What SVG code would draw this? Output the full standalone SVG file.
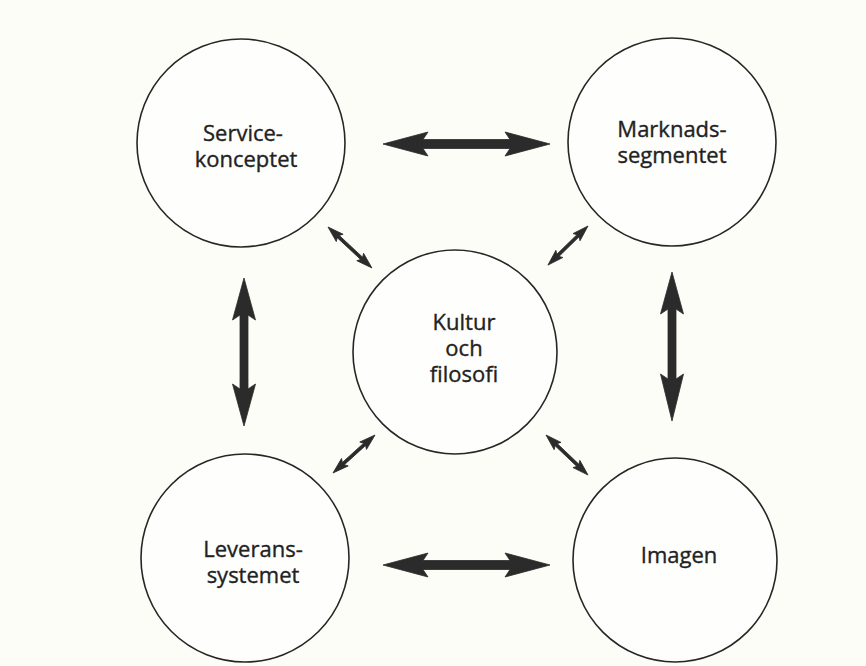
<svg xmlns="http://www.w3.org/2000/svg" width="866" height="666" viewBox="0 0 866 666">
<style>
.bg{fill:#fdfdf8}
.node circle{fill:#fefefc;stroke:#262626;stroke-width:1.6}
.node text{font-family:"Open Sans","Noto Sans","DejaVu Sans",sans-serif;font-size:22px;fill:#222222;stroke:#222222;stroke-width:0.35;text-anchor:middle}
.arrow{fill:#2b2b2b;stroke:#2b2b2b;stroke-width:0.8;stroke-linejoin:round}
</style>
<rect class="bg" x="0" y="0" width="866" height="666"/>
<g id="connectors">
<path class="arrow" transform="translate(383,144)" d="M0,0 L45,-12 L40,-4.5 L127,-4.5 L122,-12 L167,0 L122,12 L127,4.5 L40,4.5 L45,12 Z"/>
<path class="arrow" transform="translate(383,565)" d="M0,0 L45,-12 L40,-4.5 L127,-4.5 L122,-12 L167,0 L122,12 L127,4.5 L40,4.5 L45,12 Z"/>
<path class="arrow" transform="translate(244,278) rotate(90)" d="M0,0 L42,-11.5 L37,-4 L111,-4 L106,-11.5 L148,0 L106,11.5 L111,4 L37,4 L42,11.5 Z"/>
<path class="arrow" transform="translate(672,272) rotate(90)" d="M0,0 L42,-11.5 L37,-4 L107,-4 L102,-11.5 L149,0 L102,11.5 L107,4 L37,4 L42,11.5 Z"/>
<path class="arrow" transform="translate(328,227) rotate(43)" d="M0,0 L16,-5 L14,-1.5 L46,-1.5 L44,-5 L60,0 L44,5 L46,1.5 L14,1.5 L16,5 Z"/>
<path class="arrow" transform="translate(588,226) rotate(135.7)" d="M0,0 L16,-5 L14,-1.5 L42,-1.5 L40,-5 L56,0 L40,5 L42,1.5 L14,1.5 L16,5 Z"/>
<path class="arrow" transform="translate(375,435) rotate(137.9)" d="M0,0 L16,-5 L14,-1.5 L42.6,-1.5 L40.6,-5 L56.6,0 L40.6,5 L42.6,1.5 L14,1.5 L16,5 Z"/>
<path class="arrow" transform="translate(546,435) rotate(43.6)" d="M0,0 L16,-5 L14,-1.5 L44,-1.5 L42,-5 L58,0 L42,5 L44,1.5 L14,1.5 L16,5 Z"/>
</g>
<g id="service" class="node">
<circle cx="241" cy="143" r="104"/>
<text x="243" y="141">Service-</text>
<text x="246" y="167">konceptet</text>
</g>
<g id="marknad" class="node">
<circle cx="672" cy="142" r="104"/>
<text x="672" y="137">Marknads-</text>
<text x="672" y="163">segmentet</text>
</g>
<g id="kultur" class="node">
<circle cx="455" cy="352" r="102"/>
<text x="464" y="330">Kultur</text>
<text x="464" y="356">och</text>
<text x="464" y="382">filosofi</text>
</g>
<g id="leverans" class="node">
<circle cx="245" cy="558" r="104"/>
<text x="253" y="557">Leverans-</text>
<text x="253" y="583">systemet</text>
</g>
<g id="imagen" class="node">
<circle cx="675" cy="560" r="102"/>
<text x="679" y="563">Imagen</text>
</g>
</svg>
